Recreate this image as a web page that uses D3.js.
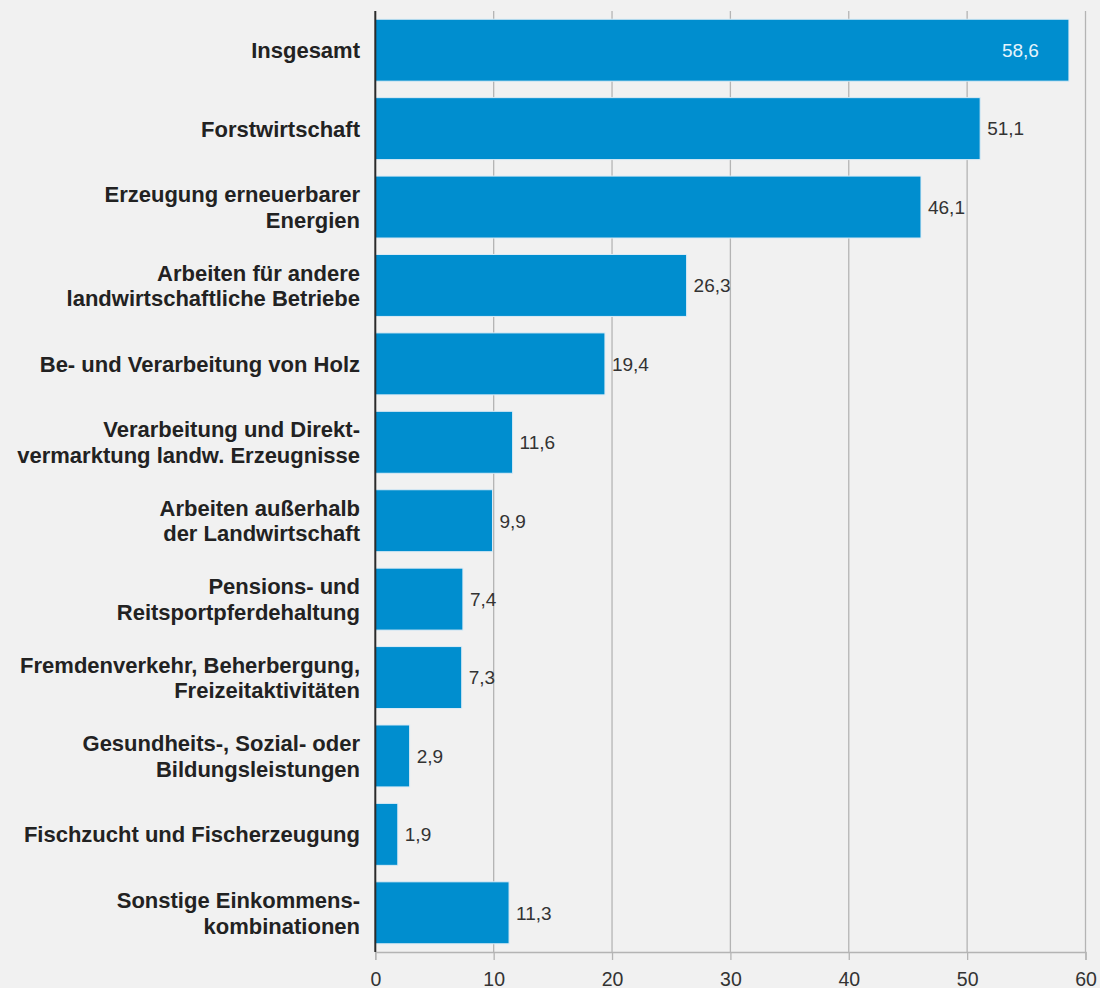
<!DOCTYPE html>
<html>
<head>
<meta charset="utf-8">
<script src="https://cdn.jsdelivr.net/npm/d3@7"></script>
<style>
  html, body { margin: 0; padding: 0; background: #f1f1f1; }
  svg { display: block; }
</style>
</head>
<body>
<svg id="chart" width="1100" height="988"></svg>
<script>
// Categories (line breaks marked with \n), values in percent, axis ticks
const categories = [
  "Insgesamt",
  "Forstwirtschaft",
  "Erzeugung erneuerbarer\nEnergien",
  "Arbeiten für andere\nlandwirtschaftliche Betriebe",
  "Be- und Verarbeitung von Holz",
  "Verarbeitung und Direkt-\nvermarktung landw. Erzeugnisse",
  "Arbeiten außerhalb\nder Landwirtschaft",
  "Pensions- und\nReitsportpferdehaltung",
  "Fremdenverkehr, Beherbergung,\nFreizeitaktivitäten",
  "Gesundheits-, Sozial- oder\nBildungsleistungen",
  "Fischzucht und Fischerzeugung",
  "Sonstige Einkommens-\nkombinationen"
];
const values = [58.6, 51.1, 46.1, 26.3, 19.4, 11.6, 9.9, 7.4, 7.3, 2.9, 1.9, 11.3];
const xTicks = [0, 10, 20, 30, 40, 50, 60];

const data = categories.map((c, i) => ({ label: c, value: values[i] }));

const svg = d3.select("#chart");
const plotLeft = 375.3, plotRight = 1085.5, plotTop = 11, plotBottom = 952;

const x = d3.scaleLinear().domain([0, 60]).range([plotLeft, plotRight]);
const y = d3.scaleBand()
  .domain(categories)
  .range([plotTop, plotBottom])
  .paddingInner(0.21)
  .paddingOuter(0.105);

const fmt = v => d3.format(".1f")(v).replace(".", ",");

// vertical grid lines
svg.append("g")
  .selectAll("line")
  .data(xTicks.filter(t => t > 0))
  .join("line")
  .attr("x1", d => x(d)).attr("x2", d => x(d))
  .attr("y1", plotTop).attr("y2", plotBottom)
  .attr("stroke", "#b4b4b4")
  .attr("stroke-width", 1.3);

// bottom axis
const xAxis = d3.axisBottom(x).tickValues(xTicks).tickSize(8).tickPadding(0).tickFormat(d3.format("d"));
const gx = svg.append("g").attr("transform", `translate(0,${plotBottom})`).call(xAxis);
gx.select(".domain").attr("stroke", "#b4b4b4").attr("stroke-width", 1.3);
gx.selectAll(".tick line").attr("stroke", "#b4b4b4").attr("stroke-width", 1.3);
gx.selectAll(".tick text")
  .attr("y", 34)
  .attr("dy", 0)
  .attr("fill", "#333")
  .style("font-family", "'Liberation Sans', Arial, sans-serif")
  .style("font-size", "19.5px");

// bars
svg.append("g")
  .selectAll("rect")
  .data(data)
  .join("rect")
  .attr("x", x(0))
  .attr("y", d => y(d.label))
  .attr("width", d => x(d.value) - x(0))
  .attr("height", y.bandwidth())
  .attr("fill", "#008ecf")
  .attr("stroke", "#dcebf5")
  .attr("stroke-width", 1);

// zero axis line
svg.append("line")
  .attr("x1", x(0)).attr("x2", x(0))
  .attr("y1", plotTop).attr("y2", plotBottom)
  .attr("stroke", "#2b2b2b")
  .attr("stroke-width", 2);

// value labels
svg.append("g")
  .selectAll("text")
  .data(data)
  .join("text")
  .attr("x", (d, i) => i === 0 ? x(d.value) - 30 : x(d.value) + 7)
  .attr("y", d => y(d.label) + y.bandwidth() / 2)
  .attr("dy", "0.36em")
  .attr("text-anchor", (d, i) => i === 0 ? "end" : "start")
  .attr("fill", (d, i) => i === 0 ? "#e6f4fc" : "#333")
  .style("font-family", "'Liberation Sans', Arial, sans-serif")
  .style("font-size", "19px")
  .text(d => fmt(d.value));

// category labels, right-aligned next to the zero line
const lineH = 25.7;
const lab = svg.append("g")
  .selectAll("text")
  .data(data)
  .join("text")
  .attr("text-anchor", "end")
  .attr("fill", "#222")
  .style("font-family", "'Liberation Sans', Arial, sans-serif")
  .style("font-weight", "bold")
  .style("font-size", "22px");

lab.each(function(d) {
  const lines = d.label.split("\n");
  const cy = y(d.label) + y.bandwidth() / 2;
  lines.forEach((ln, k) => {
    d3.select(this).append("tspan")
      .attr("x", 360)
      .attr("y", cy + (k - (lines.length - 1) / 2) * lineH)
      .attr("dy", "0.36em")
      .text(ln);
  });
});
</script>
</body>
</html>
